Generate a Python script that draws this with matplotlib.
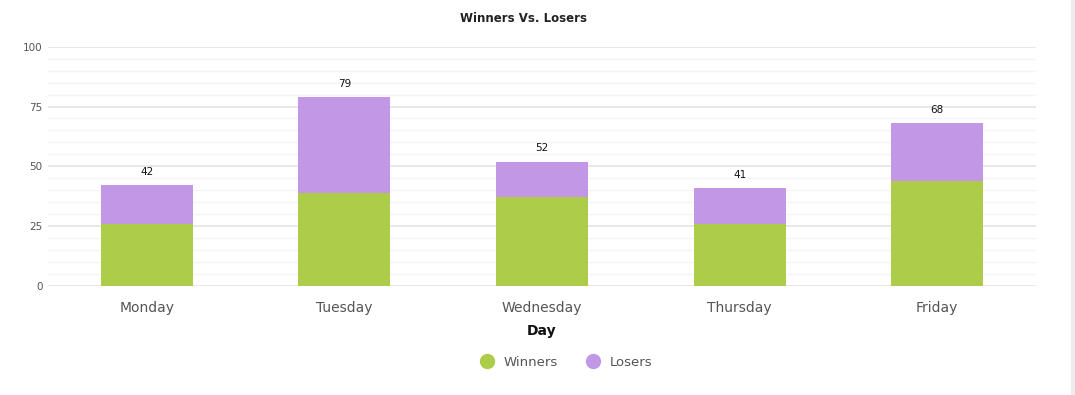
import numpy as np
import matplotlib
matplotlib.use("Agg")
import matplotlib.pyplot as plt
from matplotlib.lines import Line2D
from matplotlib.patches import Rectangle

days = ["Monday", "Tuesday", "Wednesday", "Thursday", "Friday"]
winners = [26, 39, 37, 26, 44]
losers = [16, 40, 15, 15, 24]
totals = [42, 79, 52, 41, 68]
yticks = [0, 25, 50, 75, 100]

green = "#adcc4a"
purple = "#c297e6"

fig = plt.figure(figsize=(10.75, 3.95), dpi=100)
ax = fig.add_axes([48/1075, 1 - 286/395, (1036 - 48)/1075, (286 - 46.7)/395])

x = np.arange(len(days))
w = 0.466
ax.bar(x, winners, width=w, color=green, zorder=3)
ax.bar(x, losers, width=w, bottom=winners, color=purple, zorder=3)

for xi, t in zip(x, totals):
    ax.annotate(str(t), (xi, t), xytext=(0, 6), textcoords="offset points",
                ha="center", va="bottom", fontsize=7.5, color="#111111")

ax.set_xlim(-0.5, len(days) - 0.5)
ax.set_ylim(0, 100)
ax.set_yticks(yticks)
ax.set_yticks(np.arange(0, 101, 5), minor=True)
ax.grid(axis="y", which="major", color="#e8e8e8", linewidth=1.4, zorder=0)
ax.grid(axis="y", which="minor", color="#f4f4f4", linewidth=1.0, zorder=0)
ax.tick_params(axis="y", which="both", length=0, labelsize=7.5, labelcolor="#555555", pad=4)
ax.tick_params(axis="x", length=0, labelsize=10, labelcolor="#555555", pad=11)
ax.set_xticks(x)
ax.set_xticklabels(days)
for s in ax.spines.values():
    s.set_visible(False)

ax.set_xlabel("Day", fontsize=10, fontweight="bold", color="#111111", labelpad=6)
fig.text(523/1075, 1 - 18/395, "Winners Vs. Losers", ha="center", va="center",
         fontsize=8.5, fontweight="bold", color="#222222")

handles = [Line2D([], [], marker="o", linestyle="", markersize=10, color=green),
           Line2D([], [], marker="o", linestyle="", markersize=10, color=purple)]
fig.legend(handles, ["Winners", "Losers"], loc="center", ncol=2,
           bbox_to_anchor=(563/1075, 1 - 362/395), frameon=False,
           fontsize=9.5, labelcolor="#555555", handletextpad=0.3, columnspacing=1.6)

fig.add_artist(Rectangle((1071/1075, 0), 4/1075, 1, transform=fig.transFigure,
                         color="#ececec", zorder=0))

fig.savefig("out.png", dpi=100)
